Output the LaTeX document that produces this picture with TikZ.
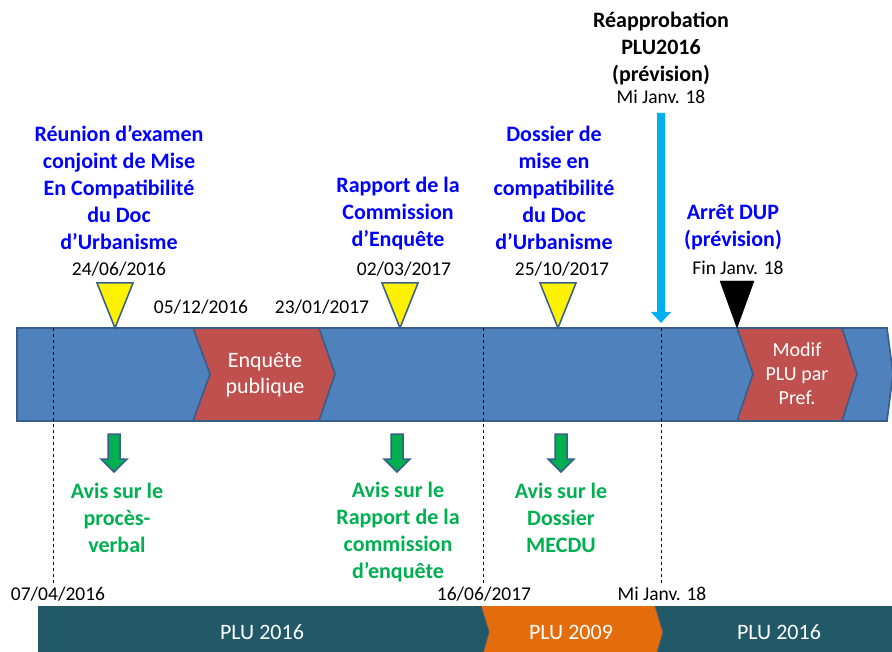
\documentclass[tikz,border=0pt]{standalone}
\usepackage{fontspec}
\setmainfont{Carlito}
\definecolor{barblue}{HTML}{4F81BD}
\definecolor{edgeblue}{HTML}{385D8A}
\definecolor{evred}{HTML}{C0504D}
\definecolor{tblue}{HTML}{0000FF}
\definecolor{tgreen}{HTML}{00B050}
\definecolor{cyanarr}{HTML}{00B0F0}
\definecolor{teal}{HTML}{215968}
\definecolor{orng}{HTML}{E46C0A}
\begin{document}
\begin{tikzpicture}[x=1pt,y=-1pt,
  lab/.style={font=\bfseries\fontsize{22}{27}\selectfont, align=center, inner sep=0pt},
  bluelab/.style={lab, text=tblue},
  blacklab/.style={lab, text=black},
  greenlab/.style={lab, text=tgreen},
  datelab/.style={font=\fontsize{19.5}{23}\selectfont, inner sep=0pt},
  whitelab/.style={font=\fontsize{22}{26}\selectfont, text=white, align=center, inner sep=0pt},
  whitesmall/.style={font=\fontsize{20}{24}\selectfont, text=white, align=center, inner sep=0pt},
  bartxt/.style={font=\fontsize{22}{26}\selectfont, text=white, inner sep=0pt},
  barshape/.style={fill=barblue, draw=edgeblue, line width=1.6pt},
  chev/.style={fill=evred, draw=edgeblue, line width=1.6pt},
  ytri/.style={fill=yellow, draw=edgeblue, line width=1.5pt, line join=miter},
  garr/.style={fill=tgreen, draw=edgeblue, line width=1.5pt},
  guide/.style={draw=black, dashed, line width=0.7pt}
]
\useasboundingbox (0,0) rectangle (892,652);

% main timeline bar
\draw[barshape] (17,328) -- (887,328) -- (893,374) -- (887,421) -- (17,421) -- cycle;
% event chevrons
\draw[chev] (193,328) -- (319,328) -- (335,374) -- (319,421) -- (193,421) -- (210,374) -- cycle;
\draw[chev] (737,328) -- (842,328) -- (857,374) -- (842,421) -- (737,421) -- (753,374) -- cycle;
\node[whitelab] (enq) at (265,375) {Enquête\\publique};
\node[whitesmall] (modif) at (797,374) {Modif\\PLU par\\Pref.};

% dashed guides
\coordinate (g1t) at (53,328);  \coordinate (g1b) at (53,584);
\coordinate (g2t) at (483,328); \coordinate (g2b) at (483,584);
\coordinate (g3t) at (661,328); \coordinate (g3b) at (661,584);
\draw[guide] (g1t) -- (g1b);
\draw[guide] (g2t) -- (g2b);
\draw[guide] (g3t) -- (g3b);

% milestone triangles
\draw[ytri] (97,283) -- (133,283) -- (115,328) -- cycle;
\draw[ytri] (382,283) -- (418,283) -- (400,328) -- cycle;
\draw[ytri] (540,283) -- (576,283) -- (558,328) -- cycle;
\draw[fill=black] (720,281) -- (754,281) -- (737,328) -- cycle;

% cyan arrow
\fill[cyanarr] (657,113) -- (665,113) -- (665,312) -- (671,312) -- (661,323) -- (651,312) -- (657,312) -- cycle;

% top labels
\node[bluelab] (reu) at (119,188) {Réunion d’examen\\conjoint de Mise\\En Compatibilité\\du Doc\\d’Urbanisme};
\node[datelab] (d1) at (119,269) {24/06/2016};
\node[datelab] (d2) at (201,307) {05/12/2016};
\node[datelab] (d3) at (322,307) {23/01/2017};
\node[bluelab] (rap) at (398,214) {Rapport de la\\Commission\\d’Enquête};
\node[datelab] (d4) at (404,269) {02/03/2017};
\node[bluelab] (dos) at (554,188) {Dossier de\\mise en\\compatibilité\\du Doc\\d’Urbanisme};
\node[datelab] (d5) at (562,269) {25/10/2017};
\node[blacklab] (reap) at (661,48) {Réapprobation\\PLU2016\\(prévision)};
\node[datelab] (d6) at (661,97) {Mi Janv. 18};
\node[bluelab] (arr) at (733,227) {Arrêt DUP\\(prévision)};
\node[datelab] (d7) at (738,268) {Fin Janv. 18};

% green arrows
\draw[garr] (108,434) -- (120,434) -- (120,459) -- (127,459) -- (114,472) -- (101,459) -- (108,459) -- cycle;
\draw[garr] (391,434) -- (403,434) -- (403,459) -- (410,459) -- (397,472) -- (384,459) -- (391,459) -- cycle;
\draw[garr] (555,434) -- (567,434) -- (567,459) -- (574,459) -- (561,472) -- (548,459) -- (555,459) -- cycle;

% green labels
\node[greenlab] (av1) at (117,518) {Avis sur le\\procès-\\verbal};
\node[greenlab] (av2) at (398,532) {Avis sur le\\Rapport de la\\commission\\d’enquête};
\node[greenlab] (av3) at (561,518) {Avis sur le\\Dossier\\MECDU};

% bottom dates
\node[datelab] (b1) at (58,594) {07/04/2016};
\node[datelab] (b2) at (484,594) {16/06/2017};
\node[datelab] (b3) at (662,594) {Mi Janv. 18};

% bottom PLU bar
\fill[teal] (38,606) rectangle (892,660);
\fill[orng] (481,606) -- (655,606) -- (663,632) -- (655,660) -- (481,660) -- (489,632) -- cycle;
\draw[edgeblue, line width=0.8pt] (481,606) -- (489,632) -- (481,660);
\draw[edgeblue, line width=0.8pt] (655,606) -- (663,632) -- (655,660);
\node[bartxt] (p1) at (262,632) {PLU 2016};
\node[bartxt] (p2) at (571,632) {PLU 2009};
\node[bartxt] (p3) at (779,632) {PLU 2016};
\end{tikzpicture}
\end{document}
